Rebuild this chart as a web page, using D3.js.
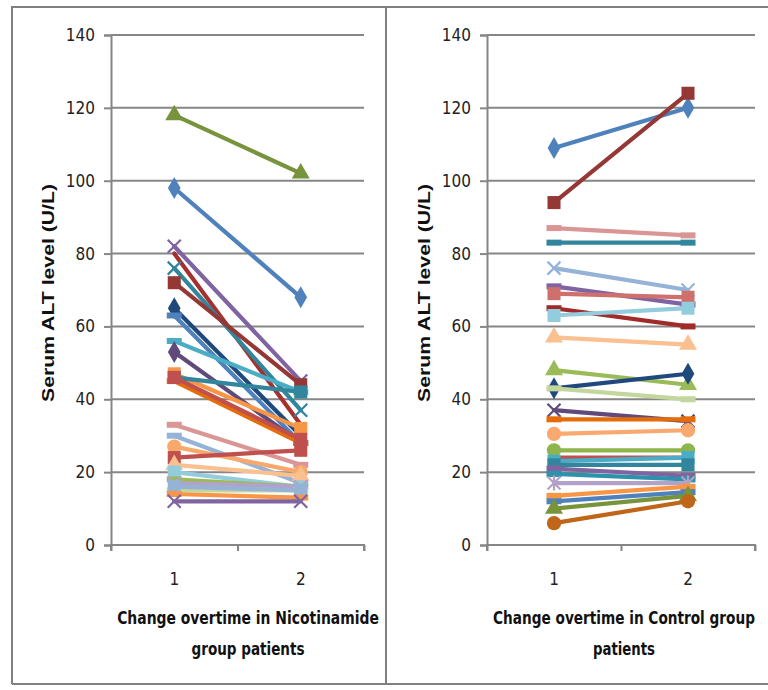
<!DOCTYPE html>
<html>
<head>
<meta charset="utf-8">
<script src="https://cdnjs.cloudflare.com/ajax/libs/d3/7.8.5/d3.min.js"></script>
<style>
  body { margin: 0; background: #fff; }
  svg { display: block; }
</style>
</head>
<body>
<div id="chart"></div>
<script>
// categories and ticks
const timepoints = ["1", "2"];
const yTicks = [0, 20, 40, 60, 80, 100, 120, 140];

// Nicotinamide group: ALT at visit 1 and visit 2
const nicoBefore = [118, 98, 82, 80, 76, 72, 65, 63, 56, 53, 47, 46, 45, 46, 33, 30, 27, 24, 22, 20, 18, 17, 15, 16, 14, 12];
const nicoAfter  = [102, 68, 45, 33, 37, 44, 30, 28, 42, 28, 32, 42, 28, 29, 22, 17, 20, 26, 19, 16, 16, 16, 15, 15, 13, 12];

// Control group: ALT at visit 1 and visit 2
const ctrlBefore = [109, 94, 87, 83, 76, 71, 69, 65, 63, 57, 48, 43, 43, 37, 34.5, 30.5, 26, 24, 23, 22, 21, 19.5, 17, 13.5, 12, 10, 6];
const ctrlAfter  = [120, 124, 85, 83, 70, 66, 68, 60, 65, 55, 44, 47, 40, 34, 34.5, 31.5, 26, 24, 24, 22, 19, 18, 17, 16, 14.5, 13.5, 12];

// series styles
const nicoColors = ["#77933C", "#4F81BD", "#7F63A2", "#A5302E", "#31859C", "#953735", "#1F497D", "#4F81BD", "#4BACC6",
  "#604A7B", "#F79646", "#31859C", "#E46C0A", "#C0504D", "#D99694", "#95B3D7", "#F8A86A", "#C0504D", "#FAC090",
  "#93CDDD", "#9BBB59", "#B3A2C7", "#C3D69B", "#95B3D7", "#F79646", "#8064A2"];
const nicoMarkers = ["triangle", "diamond", "x", "none", "x", "square", "diamond", "dash", "dash", "diamond", "square",
  "square", "dash", "square", "dash", "dash", "circle", "square", "triangle", "square", "dash", "x", "dash", "square",
  "dash", "x"];

const ctrlColors = ["#4F81BD", "#953735", "#D99694", "#31859C", "#95B3D7", "#7F63A2", "#D0706D", "#A02B28", "#93CDDD",
  "#FAC090", "#9BBB59", "#1F497D", "#C3D69B", "#604A7B", "#E46C0A", "#F9A870", "#8DB54B", "#C0504D", "#4BACC6",
  "#31859C", "#8064A2", "#2E93AA", "#B3A2C7", "#F79646", "#4F81BD", "#77933C", "#C0661A"];
const ctrlMarkers = ["diamond", "square", "dash", "dash", "x", "dash", "square", "dash", "square", "triangle", "triangle",
  "diamond", "dash", "x", "dash", "circle", "circle", "none", "square", "square", "dash", "dash", "star", "dash",
  "dash", "triangle", "circle"];

const W = 768, H = 690;
const svg = d3.select("#chart").append("svg").attr("width", W).attr("height", H);

const gridColor = "#868686";
const tickFont = "'DejaVu Sans Condensed', 'Liberation Sans Narrow', 'Open Sans', sans-serif";

// frame around the two panels
svg.append("path")
  .attr("d", "M12,684 V7 H768 M386,7 V684 M12,684 H768")
  .attr("fill", "none").attr("stroke", "#808080").attr("stroke-width", 2);

function markerPath(type) {
  if (type === "diamond") return d3.symbol(d3.symbolDiamond, 140)();
  if (type === "square") return d3.symbol(d3.symbolSquare, 170)();
  if (type === "triangle") return d3.symbol(d3.symbolTriangle, 140)();
  if (type === "circle") return d3.symbol(d3.symbolCircle, 160)();
  return null;
}

// scale a text along its baseline so it spans `width` px, centred on (cx, cy), rotated by `angle`
function fitText(sel, width, cx, cy, angle) {
  const natural = sel.node().getComputedTextLength();
  const k = width / natural;
  sel.attr("x", 0).attr("y", 0)
    .attr("transform", `translate(${cx},${cy}) rotate(${angle}) scale(${k},1)`);
}

function drawPanel(opts) {
  const { left, right, top, bottom, before, after, colors, markers, title, titleWidths, labelX, titleX } = opts;

  const g = svg.append("g");

  const y = d3.scaleLinear().domain([0, 140]).range([bottom, top]);
  const x = d3.scaleBand().domain(timepoints).range([left, right]).padding(0);
  const xEdge = d3.scaleLinear().domain([0, 2]).range([left, right]);

  // gridlines
  g.append("g")
    .selectAll("line")
    .data(yTicks.filter((d) => d > 0))
    .join("line")
    .attr("x1", left).attr("x2", right)
    .attr("y1", (d) => y(d)).attr("y2", (d) => y(d))
    .attr("stroke", gridColor).attr("stroke-width", 2);

  // y axis
  const yAxis = g.append("g")
    .attr("transform", `translate(${left},0)`)
    .call(d3.axisLeft(y).tickValues(yTicks).tickSize(7).tickPadding(9));
  yAxis.select(".domain").attr("stroke", gridColor).attr("stroke-width", 2);
  yAxis.selectAll(".tick line").attr("stroke", gridColor).attr("stroke-width", 2);
  yAxis.selectAll("text")
    .attr("font-family", tickFont).attr("font-size", 17).attr("fill", "#222");

  // x axis: ticks at category boundaries
  const xAxis = g.append("g")
    .attr("transform", `translate(0,${bottom})`)
    .call(d3.axisBottom(xEdge).tickValues([0, 1, 2]).tickSize(6).tickFormat(""));
  xAxis.select(".domain").attr("stroke", gridColor).attr("stroke-width", 2)
    .attr("d", `M${left},${6}V0H${right}V6`);
  xAxis.selectAll(".tick line").attr("stroke", gridColor).attr("stroke-width", 2);

  g.selectAll(".cat")
    .data(timepoints)
    .join("text")
    .attr("class", "cat")
    .attr("x", (d) => x(d) + x.bandwidth() / 2)
    .attr("y", bottom + 40)
    .attr("text-anchor", "middle")
    .attr("font-family", tickFont).attr("font-size", 17).attr("fill", "#222")
    .text((d) => d);

  // y axis title
  const yTitle = g.append("text")
    .attr("text-anchor", "middle")
    .attr("font-family", "'Liberation Sans', Arial, sans-serif")
    .attr("font-weight", "bold").attr("font-size", 16.5).attr("fill", "#111")
    .text("Serum ALT level (U/L)");
  fitText(yTitle, 218, labelX, (top + bottom) / 2 + 3, -90);

  // x axis title (two lines)
  title.forEach((line, i) => {
    const t = g.append("text")
      .attr("text-anchor", "middle")
      .attr("font-family", tickFont)
      .attr("font-weight", "bold").attr("font-size", 18).attr("fill", "#111")
      .text(line);
    fitText(t, titleWidths[i], titleX, bottom + 79 + i * 31, 0);
  });

  const series = before.map((b, i) => ({
    values: [b, after[i]],
    color: colors[i],
    marker: markers[i],
  }));

  const cx = (j) => x(timepoints[j]) + x.bandwidth() / 2;
  const line = d3.line().x((d, j) => cx(j)).y((d) => y(d));

  const sg = g.append("g")
    .selectAll("g")
    .data(series)
    .join("g");

  sg.append("path")
    .attr("d", (d) => line(d.values))
    .attr("fill", "none")
    .attr("stroke", (d) => d.color)
    .attr("stroke-width", 4.2)
    .attr("stroke-linecap", "round");

  sg.each(function (d) {
    const el = d3.select(this);
    d.values.forEach((v, j) => {
      const px = cx(j), py = y(v);
      const p = markerPath(d.marker);
      if (p) {
        el.append("path").attr("d", p)
          .attr("transform", `translate(${px},${py})`)
          .attr("fill", d.color);
      } else if (d.marker === "x" || d.marker === "star") {
        const s = 6.5;
        let dd = `M${px - s},${py - s}L${px + s},${py + s}M${px - s},${py + s}L${px + s},${py - s}`;
        if (d.marker === "star") dd += `M${px},${py - s - 1}V${py + s + 1}`;
        el.append("path").attr("d", dd)
          .attr("stroke", d.color).attr("stroke-width", 2.2).attr("fill", "none");
      } else if (d.marker === "dash") {
        el.append("rect")
          .attr("x", px - 7.5).attr("y", py - 3)
          .attr("width", 15).attr("height", 6)
          .attr("fill", d.color);
      }
    });
  });
}

drawPanel({
  left: 111, right: 364, top: 35, bottom: 545,
  before: nicoBefore, after: nicoAfter,
  colors: nicoColors, markers: nicoMarkers,
  title: ["Change overtime in Nicotinamide", "group patients"],
  titleWidths: [262, 113],
  labelX: 54, titleX: 248,
});

drawPanel({
  left: 487, right: 755, top: 35, bottom: 545,
  before: ctrlBefore, after: ctrlAfter,
  colors: ctrlColors, markers: ctrlMarkers,
  title: ["Change overtime in Control group", "patients"],
  titleWidths: [262, 62],
  labelX: 430, titleX: 624,
});
</script>
</body>
</html>
